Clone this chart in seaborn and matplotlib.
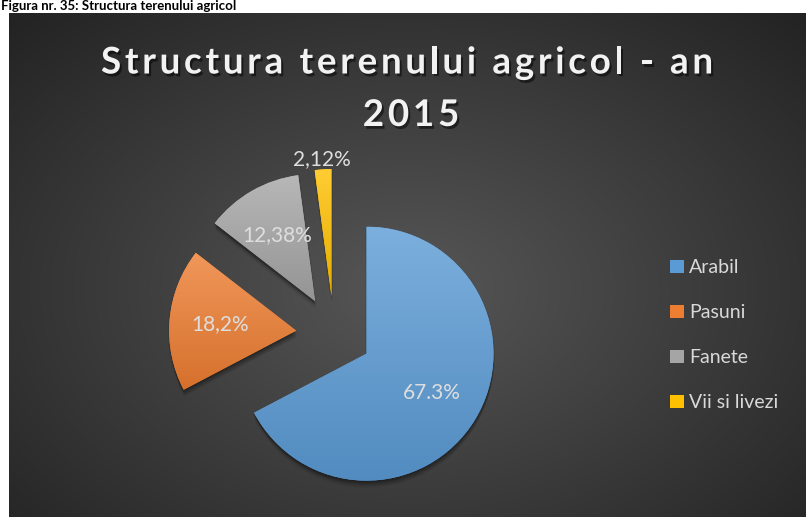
import numpy as np
import matplotlib
matplotlib.use("Agg")
import matplotlib.pyplot as plt
import matplotlib.patheffects as pe
from matplotlib.patches import Rectangle
from matplotlib.colors import to_rgb
import seaborn as sns

# Land-use structure, 2015
categories = ["Arabil", "Pasuni", "Fanete", "Vii si livezi"]
shares = [67.3, 18.2, 12.38, 2.12]
share_labels = ["67.3%", "18,2%", "12,38%", "2,12%"]
title_lines = ["Structura terenului agricol - an", "2015"]
caption = "Figura nr. 35: Structura terenului agricol"

slice_colors = ["#5B9BD5", "#ED7D31", "#A5A5A5", "#FFC000"]

sns.set_theme(style="white")
plt.rcParams["font.family"] = ["Lato", "DejaVu Sans"]

W, H, DPI = 806, 517, 100
fig = plt.figure(figsize=(W / DPI, H / DPI), dpi=DPI, facecolor="white")
ax = fig.add_axes([0, 0, 1, 1])
ax.set_facecolor("white")
renderer = fig.canvas.get_renderer()


def Y(y_px):
    """Convert a top-down pixel row into the axes' upward y coordinate."""
    return H - y_px


# dark chart area with a radial gradient
x0, x1, ytop = 9, W, 13
gx = np.linspace(x0, x1, 400)
gy = np.linspace(ytop, H, 260)
XX, YY = np.meshgrid(gx, gy)
t = np.sqrt(((XX - 410) / 560) ** 2 + ((YY - 290) / 380) ** 2)
t = np.clip(t, 0, 1)[..., None]
inner, outer = np.array([0.34] * 3), np.array([0.14] * 3)
bg = inner * (1 - t) + outer * t
ax.imshow(bg, extent=(x0, x1, Y(H), Y(ytop)), origin="upper", aspect="auto",
          zorder=0, interpolation="bilinear")

# exploded pie, first slice starting at 12 o'clock and running clockwise
R = 127
wedges, _ = ax.pie(shares, colors=slice_colors, startangle=90, counterclock=False,
                   radius=R, center=(334, Y(334)), explode=[38] * len(shares),
                   frame=True, wedgeprops=dict(linewidth=0, zorder=2))

# soft drop shadow built from a few faint offset copies
shadow = [pe.SimplePatchShadow(offset=(dx, -dy), shadow_rgbFace="black", alpha=a)
          for dx, dy, a in [(0, 5, 0.06), (0.5, 4, 0.08), (0.5, 3, 0.10),
                            (0, 2, 0.12), (-1, 1, 0.08), (1, 1, 0.08)]]
shadow.append(pe.Normal())
for w, c in zip(wedges, slice_colors):
    w.set_path_effects(shadow)
    base = np.array(to_rgb(c))
    top = base + (1 - base) * 0.2
    bot = base * 0.9
    ext = w.get_path().get_extents()
    ramp = np.linspace(0, 1, 256)[:, None, None]
    fill = top * (1 - ramp) + bot * ramp
    im = ax.imshow(fill, extent=(ext.x0, ext.x1, ext.y0, ext.y1), origin="upper",
                   aspect="auto", zorder=2.5, interpolation="bilinear")
    im.set_clip_path(w)

# value labels: inside for large slices, just outside for the thin one
for w, lab, val in zip(wedges, share_labels, shares):
    th = np.deg2rad((w.theta1 + w.theta2) / 2)
    dist = 1.08 if val < 5 else 0.6
    wx, wy = w.center
    ax.text(wx + dist * R * np.cos(th), wy + dist * R * np.sin(th), lab,
            ha="center", va="center", fontsize=15, color="#dedede", zorder=4)


def text_width(s, **kw):
    tmp = ax.text(0, 0, s, **kw)
    wd = tmp.get_window_extent(renderer).width
    tmp.remove()
    return wd


def tracked(s, xc, y, track, **kw):
    """Draw s centred on xc with extra spacing between letters."""
    total = text_width(s, **kw) + track * (len(s) - 1)
    left = xc - total / 2
    for i, ch in enumerate(s):
        if ch == " ":
            continue
        ax.text(left + text_width(s[:i + 1], **kw) + i * track, y, ch,
                ha="right", **kw)


title_kw = dict(fontsize=26.5, fontweight="bold", color="#f2f2f2", va="baseline",
                zorder=5,
                path_effects=[pe.SimplePatchShadow(offset=(1.5, -2), shadow_rgbFace="black",
                                                   alpha=0.5), pe.Normal()])
track = (612 - text_width(title_lines[0], **title_kw)) / (len(title_lines[0]) - 1)
tracked(title_lines[0], 407, Y(73.5), track, **title_kw)
tracked(title_lines[1], 411, Y(126), track, **title_kw)

# legend
for i, (cat, c) in enumerate(zip(categories, slice_colors)):
    yb = 273 + i * 45
    ax.add_patch(Rectangle((670, Y(yb)), 13.5, 13.5, facecolor=c, edgecolor="none",
                           zorder=4))
    ax.text(689, Y(yb), cat, fontsize=14, color="#d9d9d9", va="baseline", zorder=4)

# figure caption in the white strip above the chart
ax.text(1, Y(10), caption, fontsize=9.5, fontweight="bold", color="black",
        va="baseline", ha="left", zorder=1)

ax.set_xlim(0, W)
ax.set_ylim(0, H)
ax.set_aspect("auto")
ax.axis("off")

fig.savefig("out.png", dpi=DPI, facecolor="white")
